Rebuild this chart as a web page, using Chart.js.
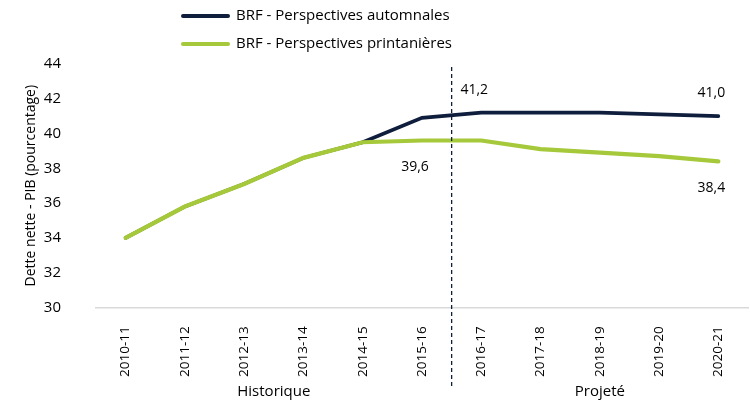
<!DOCTYPE html>
<html>
<head>
<meta charset="utf-8">
<script src="https://cdn.jsdelivr.net/npm/chart.js@4"></script>
<style>
  html, body { margin: 0; padding: 0; background: #fff; }
  #wrap { width: 750px; height: 408px; }
</style>
</head>
<body>
<div id="wrap"><canvas id="dette"></canvas></div>
<script>
var annees = ["2010-11", "2011-12", "2012-13", "2013-14", "2014-15", "2015-16",
              "2016-17", "2017-18", "2018-19", "2019-20", "2020-21"];
var automne = [34.0, 35.8, 37.1, 38.6, 39.5, 40.9, 41.2, 41.2, 41.2, 41.1, 41.0];
var printemps = [34.0, 35.8, 37.1, 38.6, 39.5, 39.6, 39.6, 39.1, 38.9, 38.7, 38.4];
var yTicks = [30, 32, 34, 36, 38, 40, 42, 44];
var groupes = [
    { nom: "Historique", debut: 0, fin: 5 },
    { nom: "Projeté", debut: 6, fin: 10 }
];
// etiquettes de valeurs: [serie, index, au-dessus?]
var etiquettes = [[0, 6, true], [0, 10, true], [1, 5, false], [1, 10, false]];

var police = "'Open Sans', sans-serif";
var marine = "#0f1e3c";
var vert = "#a5c93a";

var extras = {
    id: "extras",
    afterDraw: function (chart) {
        var c = chart.ctx;
        var x = chart.scales.x;
        var y = chart.scales.y;
        c.save();

        // ligne pointillee entre historique et projete
        var xs = (x.getPixelForValue(5) + x.getPixelForValue(6)) / 2;
        c.strokeStyle = marine;
        c.lineWidth = 1.3;
        c.setLineDash([4, 3]);
        c.beginPath();
        c.moveTo(xs, y.top + 3);
        c.lineTo(xs, 389);
        c.stroke();
        c.setLineDash([]);

        // groupes sous l'axe
        c.fillStyle = "#000";
        c.font = "15px " + police;
        c.textAlign = "center";
        c.textBaseline = "middle";
        groupes.forEach(function (g) {
            var cx = (x.getPixelForValue(g.debut) + x.getPixelForValue(g.fin)) / 2;
            c.fillText(g.nom, cx, 392);
        });

        // etiquettes de valeurs
        c.font = "14px " + police;
        etiquettes.forEach(function (e) {
            var pt = chart.getDatasetMeta(e[0]).data[e[1]];
            var v = chart.data.datasets[e[0]].data[e[1]];
            var txt = v.toFixed(1).replace(".", ",");
            c.fillText(txt, pt.x - 7, pt.y + (e[2] ? -23 : 27));
        });

        // legende
        c.font = "15px " + police;
        c.textAlign = "left";
        c.lineCap = "round";
        c.lineWidth = 4;
        chart.data.datasets.forEach(function (ds, i) {
            var ly = 16 + i * 28;
            c.strokeStyle = ds.borderColor;
            c.beginPath();
            c.moveTo(183, ly);
            c.lineTo(228, ly);
            c.stroke();
            c.fillText(ds.label, 236, ly);
        });
        c.restore();
    }
};

new Chart(document.getElementById("dette"), {
    type: "line",
    data: {
        labels: annees,
        datasets: [
            {
                label: "BRF - Perspectives automnales",
                data: automne,
                borderColor: marine,
                backgroundColor: marine,
                borderWidth: 3.6,
                pointRadius: 0,
                borderCapStyle: "round",
                tension: 0,
                order: 1
            },
            {
                label: "BRF - Perspectives printanières",
                data: printemps,
                borderColor: vert,
                backgroundColor: vert,
                borderWidth: 4.2,
                pointRadius: 0,
                borderCapStyle: "round",
                tension: 0,
                order: 0
            }
        ]
    },
    options: {
        responsive: true,
        maintainAspectRatio: false,
        animation: false,
        layout: { padding: { top: 64, right: 2, bottom: 20, left: 0 } },
        plugins: {
            legend: { display: false },
            tooltip: { enabled: false }
        },
        scales: {
            x: {
                offset: true,
                grid: { display: false },
                border: { display: true, color: "#d9d9d9", width: 1.5 },
                ticks: {
                    color: "#000",
                    font: { family: police, size: 13.5 },
                    minRotation: 90,
                    maxRotation: 90,
                    padding: 11
                }
            },
            y: {
                min: 30,
                max: 44,
                afterFit: function (s) { s.width = 96; },
                afterBuildTicks: function (s) {
                    s.ticks = yTicks.map(function (v) { return { value: v }; });
                },
                grid: { display: false },
                border: { display: false },
                ticks: {
                    color: "#000",
                    font: { family: police, size: 15 },
                    padding: 27
                },
                title: {
                    display: true,
                    text: "Dette nette - PIB (pourcentage)",
                    color: "#000",
                    font: { family: police, size: 14 },
                    padding: { top: 23, bottom: 0 }
                }
            }
        }
    },
    plugins: [extras]
});
</script>
</body>
</html>
